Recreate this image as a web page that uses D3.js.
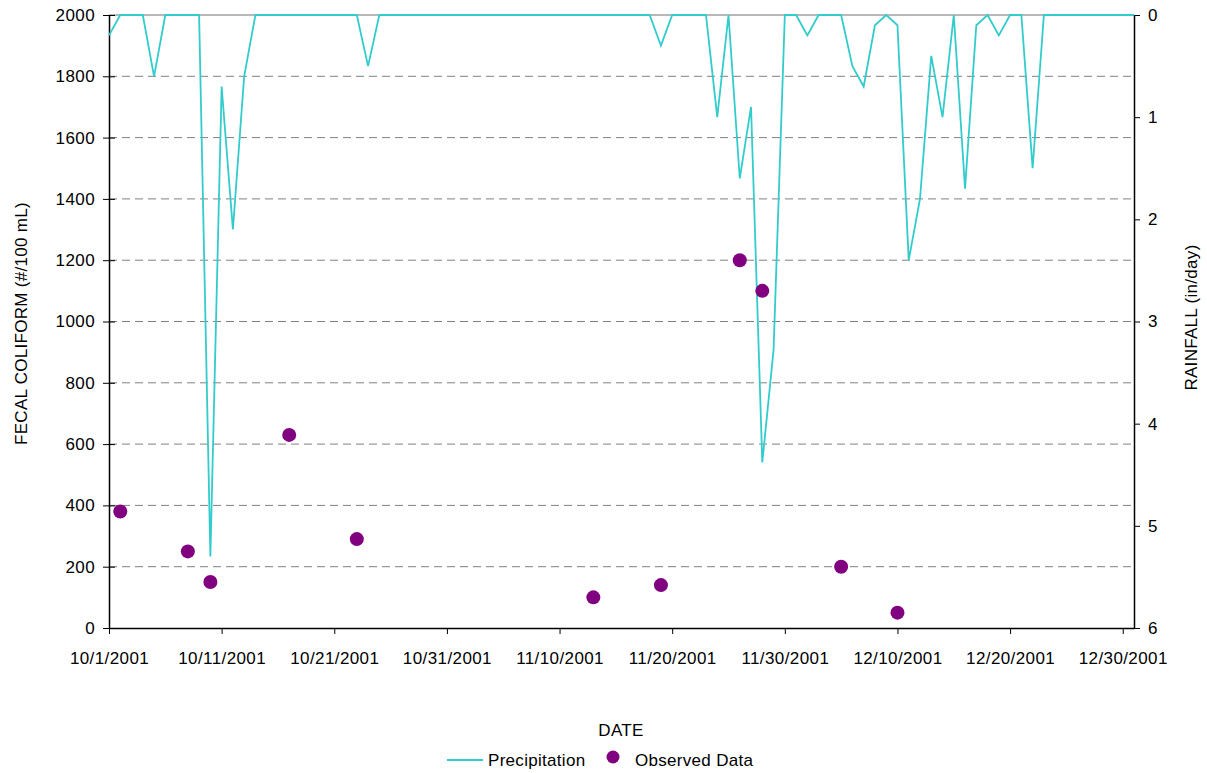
<!DOCTYPE html>
<html>
<head>
<meta charset="utf-8">
<script src="https://cdn.jsdelivr.net/npm/d3@7"></script>
<style>
  body { margin: 0; background: #fff; }
  svg text { font-family: "Liberation Sans", Arial, sans-serif; fill: #000; }
</style>
</head>
<body>
<div id="chart"></div>
<script>
// datos: lluvia diaria 10/1/2001 .. 12/31/2001 (in/day)
const startDate = new Date(2001, 9, 1);
const endDate = new Date(2001, 11, 31);
const rainfall = [
  0.2, 0, 0, 0, 0.6, 0, 0, 0, 0, 5.3,
  0.7, 2.1, 0.6, 0, 0, 0, 0, 0, 0, 0,
  0, 0, 0, 0.5, 0, 0, 0, 0, 0, 0,
  0, 0, 0, 0, 0, 0, 0, 0, 0, 0,
  0, 0, 0, 0, 0, 0, 0, 0, 0, 0.3,
  0, 0, 0, 0, 1.0, 0, 1.6, 0.9, 4.38, 3.28,
  0, 0, 0.2, 0, 0, 0, 0.5, 0.7, 0.1, 0,
  0.1, 2.4, 1.8, 0.4, 1.0, 0, 1.7, 0.1, 0, 0.2,
  0, 0, 1.5, 0, 0, 0, 0, 0, 0, 0,
  0, 0
];

// datos observados (coliformes fecales, #/100 mL)
const obsDates = ["10/2/2001", "10/8/2001", "10/10/2001", "10/17/2001", "10/23/2001",
  "11/13/2001", "11/19/2001", "11/26/2001", "11/28/2001", "12/5/2001", "12/10/2001"];
const obsValues = [380, 250, 150, 630, 290, 100, 140, 1200, 1100, 200, 50];

const xTicks = ["10/1/2001", "10/11/2001", "10/21/2001", "10/31/2001", "11/10/2001",
  "11/20/2001", "11/30/2001", "12/10/2001", "12/20/2001", "12/30/2001"];
const leftTicks = [0, 200, 400, 600, 800, 1000, 1200, 1400, 1600, 1800, 2000];
const rightTicks = [0, 1, 2, 3, 4, 5, 6];

const parse = d3.timeParse("%m/%d/%Y");

const width = 1207, height = 773;
const margin = { top: 15, right: 73, bottom: 145, left: 109 };
const iw = width - margin.left - margin.right;
const ih = height - margin.top - margin.bottom;

const svg = d3.select("#chart").append("svg")
  .attr("width", width).attr("height", height);

const g = svg.append("g").attr("transform", `translate(${margin.left},${margin.top})`);

const x = d3.scaleTime().domain([startDate, endDate]).range([0, iw]);
const yL = d3.scaleLinear().domain([0, 2000]).range([ih, 0]);
const yR = d3.scaleLinear().domain([0, 6]).range([0, ih]); // invertido

// lineas de la cuadricula
g.append("g")
  .selectAll("line")
  .data(leftTicks.filter(d => d > 0 && d < 2000))
  .join("line")
  .attr("x1", 0).attr("x2", iw)
  .attr("y1", d => yL(d)).attr("y2", d => yL(d))
  .attr("stroke", "#808080")
  .attr("stroke-width", 1)
  .attr("stroke-dasharray", "8,5");

// borde superior
g.append("line")
  .attr("x1", 0).attr("x2", iw).attr("y1", 0).attr("y2", 0)
  .attr("stroke", "#a0a0a0").attr("stroke-width", 1.5);

// ejes
const fontSize = 17;
const fmt = d3.format("d");

const xAxis = g.append("g")
  .attr("transform", `translate(0,${ih})`)
  .call(d3.axisBottom(x).tickValues(xTicks.map(parse)).tickFormat((d, i) => xTicks[i])
    .tickSizeInner(6).tickSizeOuter(0).tickPadding(18));

const leftAxis = g.append("g")
  .call(d3.axisLeft(yL).tickValues(leftTicks).tickFormat(fmt)
    .tickSizeInner(6).tickSizeOuter(0).tickPadding(8));
leftAxis.selectAll(".tick line").attr("x1", 6);

const rightAxis = g.append("g")
  .attr("transform", `translate(${iw},0)`)
  .call(d3.axisRight(yR).tickValues(rightTicks).tickFormat(fmt)
    .tickSizeInner(6).tickSizeOuter(0).tickPadding(8));

[xAxis, leftAxis, rightAxis].forEach(a => {
  a.select(".domain").attr("stroke", "#000").attr("stroke-width", 1.5);
  a.selectAll(".tick line").attr("stroke", "#000").attr("stroke-width", 1);
  a.selectAll("text")
    .style("font-family", "'Liberation Sans', Arial, sans-serif")
    .style("font-size", fontSize + "px")
    .style("letter-spacing", "0.4px")
    .attr("fill", "#000");
});

// linea de precipitacion
const rainData = rainfall.map((v, i) => ({ date: d3.timeDay.offset(startDate, i), value: v }));
g.append("path")
  .datum(rainData)
  .attr("fill", "none")
  .attr("stroke", "#33CCCC")
  .attr("stroke-width", 1.8)
  .attr("stroke-linejoin", "miter")
  .attr("d", d3.line().x(d => x(d.date)).y(d => yR(d.value)));

// puntos observados
g.append("g")
  .selectAll("circle")
  .data(obsDates.map((d, i) => ({ date: parse(d), value: obsValues[i] })))
  .join("circle")
  .attr("cx", d => x(d.date))
  .attr("cy", d => yL(d.value))
  .attr("r", 7)
  .attr("fill", "#800080");

// titulos de los ejes
const titleStyle = sel => sel.style("font-size", "17px").style("letter-spacing", "0.3px");

svg.append("text")
  .attr("transform", `translate(27,${margin.top + ih / 2 + 2}) rotate(-90)`)
  .attr("text-anchor", "middle")
  .call(titleStyle)
  .text("FECAL COLIFORM (#/100 mL)");

svg.append("text")
  .attr("transform", `translate(1197,${margin.top + ih / 2 - 4}) rotate(-90)`)
  .attr("text-anchor", "middle")
  .call(titleStyle)
  .text("RAINFALL (in/day)");

svg.append("text")
  .attr("x", 621).attr("y", 736)
  .attr("text-anchor", "middle")
  .call(titleStyle)
  .text("DATE");

// leyenda
const legend = svg.append("g").attr("transform", "translate(447,760)");
legend.append("line")
  .attr("x1", 0).attr("x2", 36).attr("y1", 0).attr("y2", 0)
  .attr("stroke", "#33CCCC").attr("stroke-width", 1.8);
legend.append("text").attr("x", 41).attr("y", 6).call(titleStyle).text("Precipitation");
legend.append("circle").attr("cx", 166).attr("cy", -3).attr("r", 6.5).attr("fill", "#800080");
legend.append("text").attr("x", 188).attr("y", 6).call(titleStyle).text("Observed Data");
</script>
</body>
</html>
